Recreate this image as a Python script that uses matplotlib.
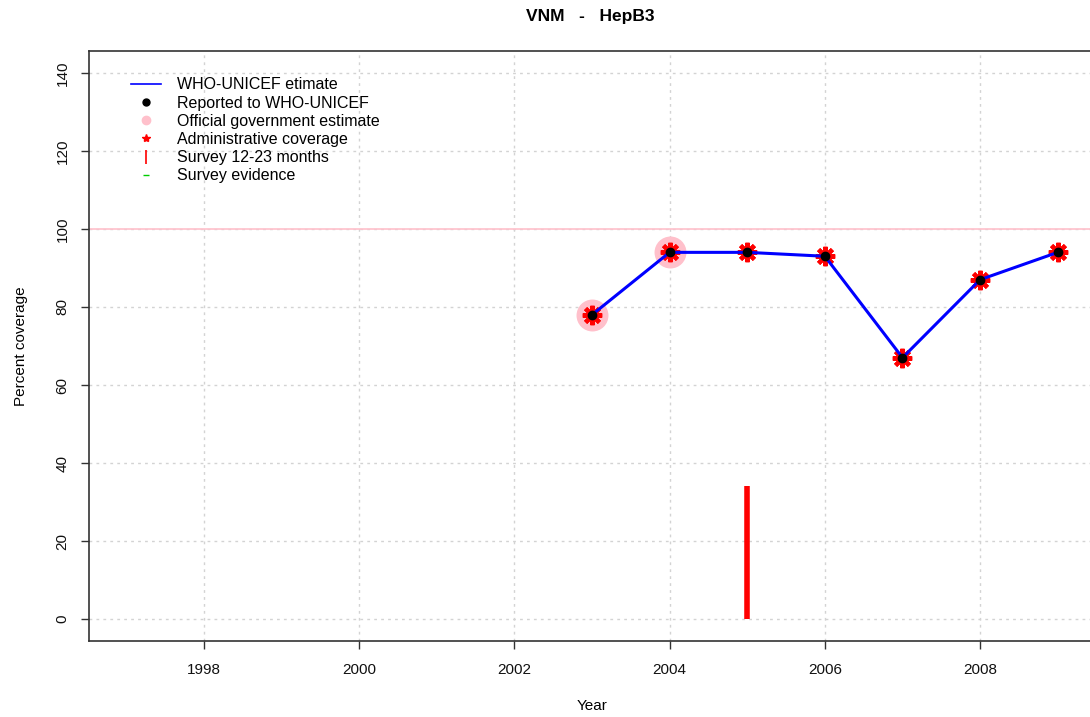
import matplotlib
matplotlib.use("Agg")
import matplotlib.pyplot as plt
from matplotlib.lines import Line2D

plt.rcParams['font.family'] = ['Liberation Sans', 'DejaVu Sans']

years = [2003, 2004, 2005, 2006, 2007, 2008, 2009]
who_unicef = [78, 94, 94, 93, 67, 87, 94]
reported = [78, 94, 94, 93, 67, 87, 94]
admin = [78, 94, 94, 93, 67, 87, 94]
official_years = [2003, 2004]
official = [78, 94]
survey_years = [2005]
survey_vals = [34]
xticks = [1998, 2000, 2002, 2004, 2006, 2008]
yticks = [0, 20, 40, 60, 80, 100, 120, 140]

fig = plt.figure(figsize=(10.90, 7.17), dpi=100)
ax = fig.add_axes([89/1090, 76/717, (1095-89)/1090, 590/717])
ax.set_xlim(1996.52, 2009.48)
ax.set_ylim(-5.6, 145.6)

for t in xticks:
    ax.axvline(t, color='#d3d3d3', lw=1, ls=(0, (2, 3)), zorder=0)
for t in yticks:
    ax.axhline(t, color='#d3d3d3', lw=1, ls=(0, (2, 3)), zorder=0)
ax.axhline(100, color='#ffc0cb', lw=1.2, zorder=1)

ax.plot(official_years, official, 'o', color='#ffc0cb', ms=23, mec='none', zorder=2)
ax.plot(years, admin, marker=(8, 2, 0), ls='none', color='red', ms=14, mew=3, zorder=3)
ax.plot(years, who_unicef, '-', color='blue', lw=2.2, zorder=4)
ax.plot(years, reported, 'o', color='black', ms=6, zorder=5)
for yr, v in zip(survey_years, survey_vals):
    ax.vlines(yr, 0, v, color='red', lw=4, zorder=3)

ax.set_xticks(xticks)
ax.set_yticks(yticks)
ax.tick_params(axis='both', labelsize=11, length=6, width=1, color='#333333', labelcolor='#111111')
for lab in ax.get_yticklabels():
    lab.set_rotation(90)
    lab.set_va('center')
ax.tick_params(axis='x', pad=10)
ax.tick_params(axis='y', pad=8)
for s in ax.spines.values():
    s.set_color('#333333')
    s.set_linewidth(1.2)

ax.set_xlabel('Year', fontsize=11, labelpad=16)
ax.set_ylabel('Percent coverage', fontsize=11, labelpad=20)
fig.text(590/1090, 1 - 16/717, 'VNM   -   HepB3', ha='center', va='center', fontsize=12.5, fontweight='bold')

handles = [
    Line2D([], [], color='blue', lw=1.2),
    Line2D([], [], marker='o', ls='none', color='black', ms=5),
    Line2D([], [], marker='o', ls='none', color='#ffc0cb', ms=6),
    Line2D([], [], marker='*', ls='none', color='red', ms=6),
    Line2D([], [], marker='|', ls='none', color='red', ms=10, mew=1.2),
    Line2D([], [], marker='_', ls='none', color='#00cc00', ms=4, mew=1),
]
labels = ['WHO-UNICEF etimate', 'Reported to WHO-UNICEF', 'Official government estimate',
          'Administrative coverage', 'Survey 12-23 months', 'Survey evidence']
leg = ax.legend(handles, labels, loc='upper left', bbox_to_anchor=(0.035, 0.966), frameon=False,
                fontsize=11.5, handlelength=1.9, handletextpad=1.0, labelspacing=0.2,
                borderaxespad=0)

fig.savefig('out.png', dpi=100)
